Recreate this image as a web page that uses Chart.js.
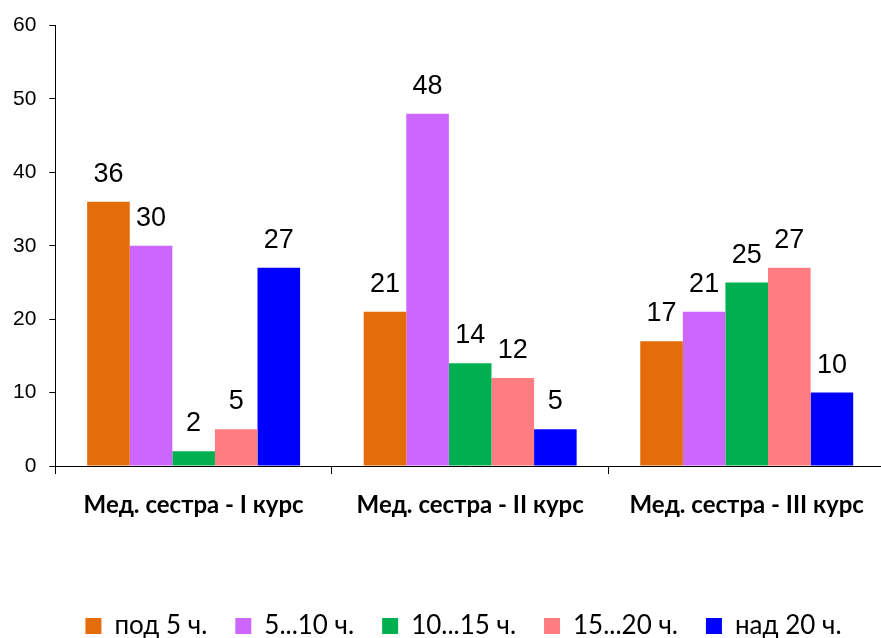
<!DOCTYPE html>
<html>
<head>
<meta charset="utf-8">
<script src="https://cdn.jsdelivr.net/npm/chart.js@4.4.1/dist/chart.umd.min.js"></script>
<style>
html,body{margin:0;padding:0;background:#fff;overflow:hidden;}
#wrap{position:absolute;left:0;top:0;width:890px;height:638px;}
</style>
</head>
<body>
<div id="wrap"><canvas id="c"></canvas></div>
<script>
const categories = ["Мед. сестра - I курс", "Мед. сестра - II курс", "Мед. сестра - III курс"];
const seriesNames = ["под 5 ч.", "5...10 ч.", "10...15 ч.", "15...20 ч.", "над 20 ч."];
const under5 = [36, 21, 17];
const h5to10 = [30, 48, 21];
const h10to15 = [2, 14, 25];
const h15to20 = [5, 12, 27];
const over20 = [27, 5, 10];
const yTicks = [0, 10, 20, 30, 40, 50, 60];
const colors = ["#E46C0A", "#CC66FF", "#00B050", "#FF7C80", "#0000FF"];

const seriesValues = [under5, h5to10, h10to15, h15to20, over20];

const valueLabels = {
  id: 'valueLabels',
  afterDatasetsDraw(chart) {
    const ctx = chart.ctx;
    ctx.save();
    ctx.font = '27px "Liberation Sans", Arial, sans-serif';
    ctx.fillStyle = '#000';
    ctx.textAlign = 'center';
    ctx.textBaseline = 'alphabetic';
    chart.data.datasets.forEach((ds, i) => {
      const meta = chart.getDatasetMeta(i);
      meta.data.forEach((el, j) => {
        ctx.fillText(String(ds.data[j]), el.x, el.y - 20);
      });
    });
    ctx.restore();
  }
};

const legendShift = {
  id: 'legendShift',
  afterLayout(chart) {
    const lg = chart.legend;
    if (!lg) return;
    lg.left += 21; lg.right += 21;
    lg.top += 11; lg.bottom += 11;
  }
};

new Chart(document.getElementById('c'), {
  type: 'bar',
  data: {
    labels: categories,
    datasets: seriesNames.map((n, i) => ({
      label: n,
      data: seriesValues[i],
      backgroundColor: colors[i],
      borderWidth: 0,
      categoryPercentage: 0.77,
      barPercentage: 1.0
    }))
  },
  options: {
    responsive: true,
    maintainAspectRatio: false,
    animation: false,
    layout: { padding: { left: 0, right: 5, top: 19, bottom: 0 } },
    plugins: {
      tooltip: { enabled: false },
      legend: {
        position: 'bottom',
        labels: {
          boxWidth: 16,
          boxHeight: 16,
          padding: 28,
          color: '#000',
          font: { family: 'Lato, "Open Sans", sans-serif', size: 26 }
        }
      }
    },
    scales: {
      x: {
        offset: true,
        grid: { offset: true, drawOnChartArea: false, tickLength: 8, color: '#000', tickColor: '#000' },
        border: { color: '#000', width: 1 },
        ticks: {
          padding: 17,
          color: '#000',
          font: { family: 'Lato, "Open Sans", sans-serif', size: 24, weight: 'bold' }
        },
        afterFit(scale) { scale.height = 108; }
      },
      y: {
        min: 0,
        max: 60,
        afterBuildTicks(scale) { scale.ticks = yTicks.map(v => ({ value: v })); },
        grid: { drawOnChartArea: false, tickLength: 6, color: '#000', tickColor: '#000' },
        border: { color: '#000', width: 1 },
        ticks: {
          padding: 13,
          color: '#000',
          font: { family: '"Liberation Sans", Arial, sans-serif', size: 21 }
        }
      }
    }
  },
  plugins: [valueLabels, legendShift]
});
</script>
</body>
</html>
